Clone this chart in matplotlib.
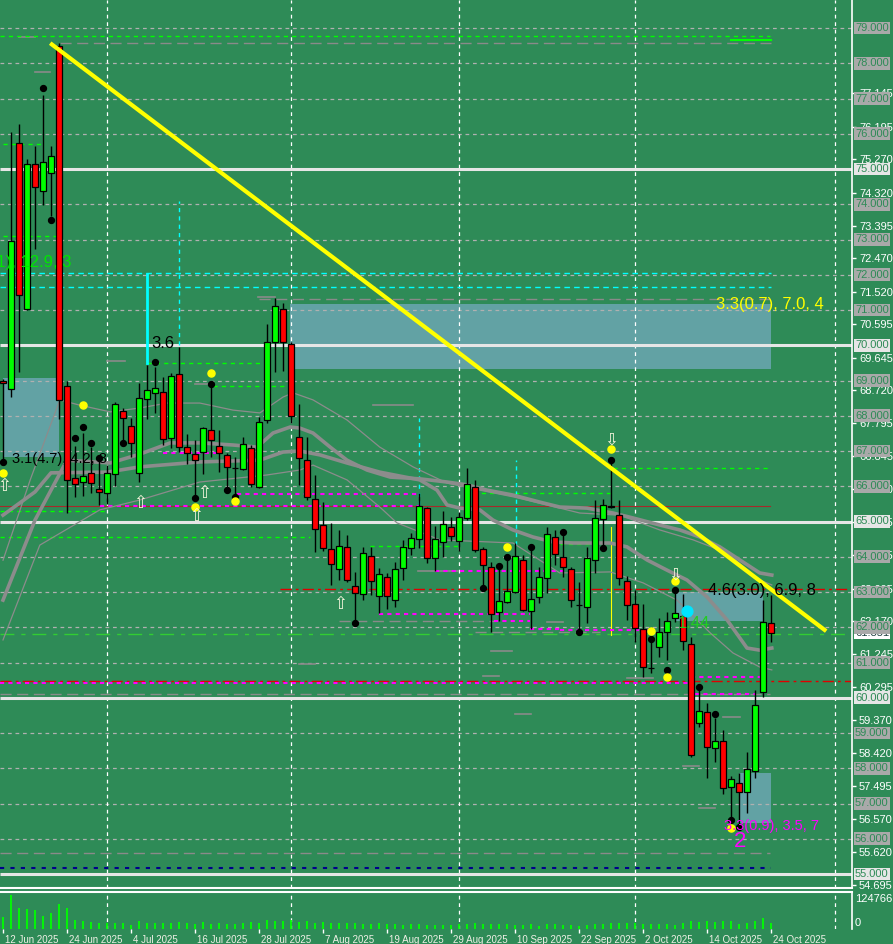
import numpy as np
import matplotlib
matplotlib.use('Agg')
import matplotlib.pyplot as plt
import matplotlib.transforms as mtransforms
from matplotlib.patches import Rectangle

plt.rcParams['font.family'] = ['Liberation Sans', 'DejaVu Sans']

BG = '#2e8b57'

# daily bars, index 0 = 12 Jun 2025
opens = [68.98, 68.76, 75.74, 71.03, 75.14, 74.38, 74.89, 78.49, 68.84, 66.23,
         66.12, 66.38, 65.92, 65.81, 66.35, 68.13, 67.71, 66.38, 68.48, 68.65,
         68.67, 67.37, 69.18, 67.11, 66.91, 66.97, 67.60, 67.14, 66.89, 66.53,
         66.49, 67.09, 65.98, 67.88, 70.09, 71.03, 70.04, 67.40, 66.74, 65.64,
         64.90, 64.22, 63.65, 64.28, 63.17, 62.94, 64.02, 62.89, 63.43, 62.77,
         63.68, 64.25, 64.50, 65.38, 63.96, 64.42, 64.84, 64.45, 65.10, 65.98,
         64.22, 63.71, 62.43, 62.72, 63.00, 63.91, 62.46, 62.86, 63.40, 64.56,
         63.99, 63.65, 62.64, 62.57, 63.91, 65.07, 65.45, 65.18, 63.31, 62.66,
         61.95, 60.85, 61.44, 61.87, 62.26, 62.32, 61.52, 59.28, 59.60, 58.57,
         58.77, 57.47, 57.58, 57.33, 57.92, 60.16, 62.12]
highs = [69.05, 76.05, 76.28, 75.28, 75.65, 77.10, 75.65, 78.57, 68.99, 67.14,
         67.51, 67.11, 66.83, 66.60, 68.39, 68.22, 67.94, 68.93, 69.44, 69.38,
         69.10, 69.21, 69.95, 67.48, 67.31, 67.68, 68.87, 67.60, 66.94, 66.83,
         67.40, 67.17, 67.96, 70.60, 71.34, 71.20, 70.09, 68.33, 67.40, 66.32,
         65.55, 64.96, 64.76, 64.62, 63.57, 64.28, 64.28, 63.68, 63.54, 63.85,
         64.48, 64.67, 65.81, 65.41, 64.87, 65.30, 65.13, 65.27, 66.52, 66.18,
         64.28, 63.85, 63.68, 63.99, 64.39, 64.05, 64.20, 63.71, 64.84, 64.76,
         64.67, 63.71, 63.28, 64.28, 65.61, 65.64, 66.74, 65.61, 63.45, 63.06,
         62.66, 61.75, 62.26, 62.43, 63.06, 62.94, 61.72, 60.36, 59.85, 59.43,
         59.09, 57.78, 57.87, 58.46, 60.22, 62.77, 62.91]
lows = [66.74, 68.53, 69.24, 71.00, 72.73, 73.98, 73.67, 67.90, 65.24, 65.70,
        65.72, 65.81, 65.47, 65.50, 66.01, 67.23, 66.83, 66.12, 67.91, 68.08,
        67.17, 67.09, 66.97, 66.63, 65.70, 66.35, 66.83, 66.40, 65.89, 65.70,
        66.46, 65.98, 65.95, 67.79, 69.24, 69.27, 67.79, 66.04, 65.61, 64.13,
        64.16, 63.20, 63.34, 63.28, 62.12, 62.77, 62.91, 62.40, 62.52, 62.57,
        63.34, 64.05, 64.25, 63.82, 63.60, 63.99, 64.45, 64.16, 65.04, 64.13,
        63.11, 61.87, 62.18, 62.69, 62.97, 62.46, 61.95, 62.69, 62.97, 63.77,
        63.43, 62.57, 61.87, 62.12, 63.54, 64.25, 65.38, 63.20, 62.21, 61.58,
        60.59, 60.70, 61.16, 61.07, 62.15, 61.35, 58.32, 59.17, 57.72, 58.18,
        57.27, 56.53, 56.33, 56.73, 57.72, 60.02, 61.58]
closes = [68.92, 72.96, 71.43, 75.14, 74.49, 75.20, 75.37, 68.45, 66.18, 66.06,
          66.29, 66.09, 65.84, 66.38, 68.33, 67.94, 67.23, 68.50, 68.73, 68.79,
          67.34, 69.13, 67.11, 66.94, 66.74, 67.65, 67.31, 66.94, 66.55, 66.51,
          67.20, 66.06, 67.82, 70.09, 71.11, 70.09, 67.99, 66.80, 65.70, 64.79,
          64.25, 63.79, 64.30, 63.34, 62.97, 64.11, 63.31, 63.51, 62.89, 63.65,
          64.28, 64.53, 65.44, 63.96, 64.50, 64.93, 64.59, 65.13, 66.06, 64.19,
          63.77, 62.38, 62.74, 63.03, 64.02, 62.49, 62.80, 63.43, 64.65, 64.08,
          63.71, 62.77, 62.62, 63.96, 65.10, 65.47, 65.42, 63.40, 62.63, 61.98,
          60.87, 60.83, 61.87, 62.18, 62.40, 61.61, 58.38, 59.62, 58.60, 58.77,
          57.44, 57.70, 57.33, 57.98, 59.79, 62.15, 61.84]
volumes = [43000, 124766, 77000, 73000, 70000, 48000, 59000, 92000, 77000, 33000,
           29000, 26000, 22000, 22000, 22000, 22000, 15000, 29000, 22000, 22000,
           22000, 22000, 26000, 22000, 18000, 26000, 18000, 22000, 18000, 18000,
           22000, 26000, 22000, 33000, 29000, 29000, 33000, 26000, 29000, 22000,
           26000, 22000, 22000, 22000, 22000, 18000, 18000, 22000, 18000, 18000,
           15000, 18000, 18000, 15000, 16000, 15000, 15000, 18000, 18000, 22000,
           18000, 18000, 18000, 18000, 15000, 15000, 18000, 11000, 18000, 18000,
           15000, 15000, 11000, 15000, 18000, 18000, 22000, 22000, 22000, 22000,
           18000, 18000, 18000, 18000, 15000, 22000, 29000, 27000, 29000, 26000,
           29000, 29000, 18000, 22000, 29000, 40000, 22000]
vol_max = 124766

date_ticks = list(range(0, 97, 8))
date_labels = ['12 Jun 2025', '24 Jun 2025', '4 Jul 2025', '16 Jul 2025', '28 Jul 2025',
               '7 Aug 2025', '19 Aug 2025', '29 Aug 2025', '10 Sep 2025', '22 Sep 2025',
               '2 Oct 2025', '14 Oct 2025', '24 Oct 2025']
month_breaks = [13, 36, 57, 79, 104]

price_ticks = [77.145, 76.195, 75.270, 74.320, 73.395, 72.470, 71.520, 70.595, 69.645,
               68.720, 67.795, 66.845, 65.920, 64.995, 64.045, 63.095, 62.170, 61.245,
               60.295, 59.370, 58.420, 57.495, 56.570, 55.620, 54.695]
round_levels = list(range(55, 80))
major_levels = [55, 60, 65, 70, 75]
last_price = 61.851

# moving averages (bar, price)
ma_slow_x = [0, 4, 6, 13, 17.1, 24.6, 32.1, 35, 37.1, 39.6, 43, 47.1, 52.1, 54.25, 55.5, 57.1,
             59.6, 61.25, 63.75, 66.25, 68.75, 71.25, 75.9, 78, 80.5, 83, 85.5, 88, 90.5,
             93, 94.6, 96.1]
ma_slow_y = [65.18, 65.84, 66.38, 66.40, 66.55, 66.69, 66.74, 66.97, 67.00, 66.89, 66.66,
             66.40, 66.18, 65.89, 65.47, 65.38, 65.33, 65.04, 64.76, 64.56, 64.42, 64.39,
             64.39, 64.28, 63.91, 63.62, 63.34, 62.86, 62.21, 61.41, 61.35, 61.41]
ma_mid_x = [0, 4, 8, 13.4, 17.1, 20.9, 24.6, 28.75, 31.75, 33.75, 35.9, 37.1, 38.75, 40.9,
            43, 45.5, 48.4, 52.1, 55.5, 58, 60.5, 63.75, 67.1, 69.6, 73, 76.25, 78.75,
            82.1, 84.6, 87.1, 89.6, 92.1, 94.6, 96.1]
ma_mid_y = [62.77, 65.04, 66.74, 66.66, 66.91, 67.23, 67.23, 67.17, 67.11, 67.51, 67.68,
            67.65, 67.51, 67.11, 66.74, 66.46, 66.26, 66.21, 66.12, 66.04, 65.89, 65.75,
            65.55, 65.41, 65.38, 65.24, 65.10, 64.90, 64.76, 64.56, 64.28, 63.91, 63.54,
            63.48]
ma_thin1_x = [0, 3.4, 7.1, 9.6, 13.4, 17.1, 20.5, 24.6, 28.75, 32.1, 35, 36.25, 38.75, 43,
              47.1, 51.25, 55.5, 59.6, 63.75, 68, 72.1, 77.1, 82.1, 86.25, 90.5, 94.6, 96.1]
ma_thin1_y = [63.90, 66.18, 68.45, 68.30, 68.11, 68.22, 68.36, 68.36, 68.16, 68.08, 68.53,
              68.65, 68.45, 67.88, 67.11, 66.55, 66.09, 65.89, 65.70, 65.47, 65.24, 65.18,
              64.76, 64.48, 64.11, 63.34, 63.20]
ma_thin2_x = [0, 4.6, 12.1, 17.1, 24.6, 33, 37.1, 38.75, 43, 47.1, 49.25, 54.6, 63.75, 69.6,
              75.9, 80, 84.25, 88.4, 91.25, 94.6, 96.1]
ma_thin2_y = [61.64, 64.33, 65.33, 65.61, 66.12, 66.32, 66.46, 66.60, 66.18, 65.41, 64.96,
              64.48, 64.39, 63.54, 63.57, 63.26, 62.77, 61.84, 61.27, 60.87, 60.79]

trend_x = [5.9, 102.9]
trend_y = [78.57, 61.89]

# zones: (x0, x1, low, high)
zones = [(35.9, 96, 69.33, 71.17), (0, 7, 66.83, 69.07), (84, 95, 62.18, 63.00),
         (92, 96, 56.45, 57.87)]

# level segments: (price, x0, x1)
green_levels = [(78.77, -0.4, 95.9), (75.71, 0, 4.9), (73.10, 0, 7), (69.50, 18, 33),
                (68.84, 26.25, 35.9), (66.52, 76.25, 95.9), (65.81, 58.75, 75.9),
                (65.30, -0.4, 13), (64.56, -0.4, 38.4), (64.36, 69.6, 73.4),
                (64.30, 45.9, 57.1)]
green_solid_levels = [(78.66, 91, 96)]
magenta_levels = [(66.94, 20, 26.75), (65.78, 29.25, 52), (65.44, 12.1, 52), (63.60, 54, 70),
                  (62.38, 47, 65.9), (62.18, 61.4, 65.9), (61.95, 65.9, 70),
                  (61.92, 69.6, 81.25), (60.59, 86, 94.6), (60.42, -0.4, 85.9),
                  (60.11, 86.5, 94)]
red_levels = [(63.09, 34.6, 106.2), (60.48, -0.4, 106.2)]
darkred_levels = [(65.44, -0.4, 95.9)]
cyan_levels = [(72.05, -0.4, 96), (71.65, -0.4, 96)]
gray_levels = [(78.57, 7.1, 96), (71.31, 32, 96), (62.18, 42, 61.4), (61.87, 59, 74.6),
               (60.11, -0.4, 95.9), (55.60, -0.4, 95.9)]
blue_levels = [(55.17, -0.4, 96)]
lime_levels = [(61.82, -0.4, 106.2)]
gray_marks = [(78.74, 2, 4), (77.75, 4, 5.9), (71.37, 31.9, 34), (69.55, 13, 15.25),
              (68.90, 24, 26.25), (68.30, 46.25, 51.25), (63.60, 51.9, 56.9),
              (60.96, 37, 39), (61.33, 61, 63.6), (60.62, 60, 62), (59.54, 64, 66),
              (62.15, 68, 70), (60.56, 78, 81.25), (58.06, 85, 87), (59.45, 90, 92.1),
              (56.87, 87, 89)]

# vertical markers: (bar, low, high)
cyan_vdash = [(22, 70.01, 74.09), (52, 65.47, 67.94), (64.1, 64.33, 66.74)]
cyan_vsolid = [(18, 69.50, 72.02)]
yellow_vthin = [(76, 61.78, 64.84)]

black_dot_x = [0, 5, 6, 9, 10, 11, 12, 15, 19, 24, 26, 28, 29, 44, 60, 62, 63, 66, 70, 72,
               75, 76, 81, 83, 84, 87, 89, 91, 92]
black_dot_y = [66.69, 77.30, 73.55, 67.37, 67.68, 67.23, 66.80, 67.23, 69.52, 65.67, 68.90,
               65.89, 65.70, 62.12, 63.11, 63.74, 63.99, 64.28, 64.70, 61.87, 64.25, 66.74,
               61.67, 60.79, 63.06, 60.30, 59.54, 56.53, 56.33]
yellow_dot_x = [0, 10, 26, 24, 29, 63, 76, 81, 83, 84, 91]
yellow_dot_y = [66.38, 68.30, 69.21, 65.41, 65.58, 64.28, 67.06, 61.89, 60.59, 63.31, 56.30]
up_arrow_x = [0.1, 17.1, 24.1, 25.1, 42.1]
up_arrow_y = [66.00, 65.52, 65.16, 65.81, 62.66]
down_arrow_x = [76, 84]
down_arrow_y = [67.31, 63.48]

labels_black = [(18.6, 70.04, '3.6', 12), (1.1, 66.77, '3.1(4.7), 4.2, 8', 10.5),
                (88.1, 63.03, '4.6(3.0), 6.9, 8', 12)]

# ---------------------------------------------------------------
fig = plt.figure(figsize=(8.93, 9.44), dpi=100, facecolor=BG)
ax = fig.add_axes([0, 56 / 944, 852 / 893, 888 / 944], facecolor=BG)
vax = fig.add_axes([0, 15 / 944, 852 / 893, 37 / 944], facecolor=BG)

xmin, xmax = -0.375, 106.125
ax.set_xlim(xmin, xmax)
vax.set_xlim(xmin, xmax)
ax.set_ylim(79 - 860 / 35.25, 79 + 28 / 35.25)
vax.set_ylim(0, vol_max * 37 / 34)

# round-number grid
minor = [v for v in round_levels if v not in major_levels]
ax.hlines(minor, xmin, xmax, colors='#b0b0b0', linestyles=(0, (3, 3)), lw=0.9, zorder=1.5)
ax.hlines(major_levels, xmin, xmax, colors='#e6e6e6', lw=2.2, zorder=1.6)
for b in month_breaks:
    ax.axvline(b, color='white', ls=(0, (3, 3)), lw=0.9, zorder=1.5)
    vax.axvline(b, color='white', ls=(0, (3, 3)), lw=0.9, zorder=1.5)

for x0, x1, lo, hi in zones:
    ax.add_patch(Rectangle((x0, lo), x1 - x0, hi - lo, facecolor='#62a2a4',
                           edgecolor='none', zorder=1))


def segs(levels, **kw):
    for p, a, b in levels:
        ax.plot([a, b], [p, p], **kw)


segs(gray_levels, color='#8a8a8a', ls=(0, (8, 4)), lw=1, zorder=2)
segs(gray_marks, color='#8a8a8a', lw=1.2, zorder=2)
segs(green_levels, color='#00ff00', ls=(0, (3, 3)), lw=1, zorder=2.5)
segs(green_solid_levels, color='#00ff00', lw=1.5, zorder=2.5)
segs(magenta_levels, color='#ff00ff', ls=(0, (2, 2)), lw=1.5, zorder=2.6)
segs(red_levels, color='#e00000', ls=(0, (8, 3, 2, 3)), lw=1, zorder=2.5)
segs(darkred_levels, color='#a52a2a', lw=0.8, zorder=2.4)
segs(cyan_levels, color='#00ffff', ls=(0, (4, 3)), lw=1, zorder=2.5)
segs(blue_levels, color='#00008b', ls=(0, (2, 3)), lw=1.5, zorder=2.5)
segs(lime_levels, color='#32cd32', ls=(0, (10, 5, 3, 5)), lw=1, zorder=2.5)

for b, lo, hi in cyan_vdash:
    ax.plot([b, b], [lo, hi], color='#00ffff', ls=(0, (3, 3)), lw=1, zorder=2.5)
for b, lo, hi in cyan_vsolid:
    ax.plot([b, b], [lo, hi], color='#00ffff', lw=2, zorder=2.5)
for b, lo, hi in yellow_vthin:
    ax.plot([b, b], [lo, hi], color='#ffff00', lw=0.8, zorder=2.5)

# moving averages
ax.plot(ma_slow_x, ma_slow_y, color='#8c8c8c', lw=2.6, zorder=3)
ax.plot(ma_mid_x, ma_mid_y, color='#8c8c8c', lw=2.6, zorder=3)
ax.plot(ma_thin1_x, ma_thin1_y, color='#8c8c8c', lw=0.9, zorder=3)
ax.plot(ma_thin2_x, ma_thin2_y, color='#8c8c8c', lw=0.9, zorder=3)

# candles
x = np.arange(len(opens))
o, h, l, c = map(np.array, (opens, highs, lows, closes))
up = c >= o
ax.vlines(x, l, h, color='black', lw=1, zorder=4)
ax.bar(x, np.maximum(np.abs(c - o), 0.02), bottom=np.minimum(o, c), width=0.66,
       color=np.where(up, '#00ff00', '#ff0000'), edgecolor='black', linewidth=0.9, zorder=5)

ax.scatter(black_dot_x, black_dot_y, s=18, c='black', zorder=6)
ax.scatter(yellow_dot_x, yellow_dot_y, s=26, c='#ffff00', zorder=6)
ax.scatter([85.5], [62.46], s=60, c='#00e5ff', zorder=6)
for ux, uy in zip(up_arrow_x, up_arrow_y):
    ax.text(ux, uy, '\u21e7', color='#f5f5dc', fontsize=12, ha='center', va='center',
            family='DejaVu Sans', zorder=6)
for dx, dy in zip(down_arrow_x, down_arrow_y):
    ax.text(dx, dy, '\u21e9', color='#f5f5dc', fontsize=12, ha='center', va='center',
            family='DejaVu Sans', zorder=6)

ax.plot(trend_x, trend_y, color='#ffff00', lw=3, solid_capstyle='butt', zorder=7)

# annotations
for tx, ty, s, fs in labels_black:
    ax.text(tx, ty, s, color='black', fontsize=fs, ha='left', va='center', zorder=8)
ax.text(89.1, 71.17, '3.3(0.7), 7.0, 4', color='#ffff00', fontsize=12, ha='left',
        va='center', zorder=8)
ax.text(90.1, 56.36, '3.3(0.9), 3.5, 7', color='#ff00ff', fontsize=10.5, ha='left',
        va='center', zorder=8)
ax.text(92.1, 55.91, '2', color='#ff00ff', fontsize=16, ha='center', va='center', zorder=8)
ax.text(84.4, 62.12, '1.44', color='#22cc22', fontsize=12, ha='left', va='center', zorder=8)
ax.text(8.5, 72.36, '4.1(2.1), 12.9, 3', color='#00e600', fontsize=12, ha='right',
        va='center', zorder=8, clip_on=True)

# price scale
ax.yaxis.tick_right()
ax.set_yticks(price_ticks)
ax.set_yticklabels([f'{p:.3f}' for p in price_ticks])
ax.tick_params(axis='y', colors='white', length=3, width=1, pad=2, labelsize=8)
ax.tick_params(axis='x', bottom=False, labelbottom=False)
blend = mtransforms.blended_transform_factory(ax.transAxes, ax.transData)
ax.text(1.0035, last_price, f'{last_price:.3f}', transform=blend, fontsize=8,
        color='#1f3f3f', ha='left', va='center', clip_on=False, zorder=9,
        bbox=dict(boxstyle='square,pad=0.12', fc='white', ec='none'))
for lvl in round_levels:
    fc = '#e6e6e6' if lvl in major_levels else '#a9a9a9'
    ax.text(1.0035, lvl, f'{lvl:.3f}', transform=blend, fontsize=8, color=BG,
            ha='left', va='center', clip_on=False, zorder=10,
            bbox=dict(boxstyle='square,pad=0.12', fc=fc, ec='none'))

for s in ['left', 'top']:
    ax.spines[s].set_visible(False)
ax.spines['right'].set_color('white')
ax.spines['right'].set_linewidth(1.2)
ax.spines['bottom'].set_color('white')
ax.spines['bottom'].set_linewidth(1.5)

# volume pane
vax.vlines(x, 0, volumes, color='#00ff00', lw=1.3, zorder=3)
vax.set_yticks([])
vax.set_xticks(date_ticks)
vax.set_xticklabels(date_labels, ha='left', fontsize=7, color='#f0f0e6')
vax.tick_params(axis='x', colors='white', length=3, width=1, pad=1.5)
for lab in vax.get_xticklabels():
    lab.set_color('#f0f0e6')
    lab.set_transform(lab.get_transform() +
                      mtransforms.ScaledTranslation(2 / 100, 0, fig.dpi_scale_trans))
for s in ['left', 'bottom']:
    vax.spines[s].set_visible(False)
vax.spines['top'].set_color('white')
vax.spines['top'].set_linewidth(1.5)
vax.spines['right'].set_color('white')
vax.spines['right'].set_linewidth(1.2)
vax.text(1.0035, 0.81, str(vol_max), transform=vax.transAxes, fontsize=8, color='white',
         ha='left', va='center', clip_on=False)
vax.text(1.0035, 0.16, '0', transform=vax.transAxes, fontsize=8, color='white',
         ha='left', va='center', clip_on=False)

fig.savefig('out.png', dpi=100, facecolor=BG)
